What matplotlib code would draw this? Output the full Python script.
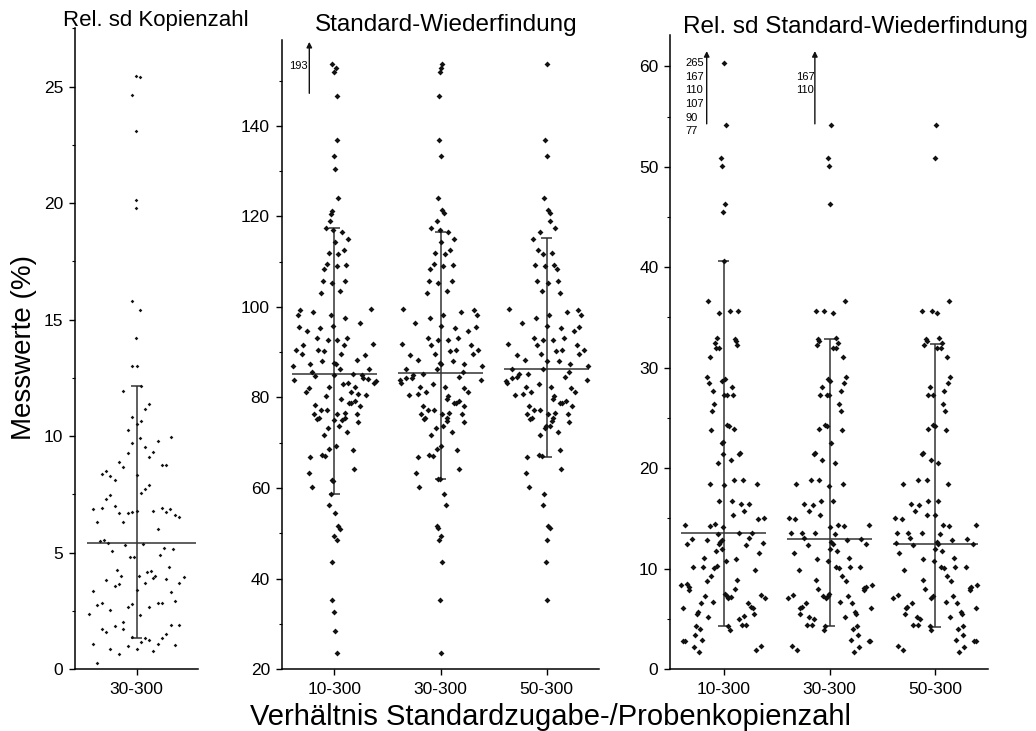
import numpy as np
import matplotlib
matplotlib.use("Agg")
import matplotlib.pyplot as plt

plt.rcParams["font.family"] = ["Liberation Sans", "DejaVu Sans"]

# Kategorien (Verhältnis Standardzugabe/Probenkopienzahl)
kategorien_kopien = ["30-300"]
kategorien = ["10-300", "30-300", "50-300"]

# Messpunkte als (Streuung in Kategorie-Einheiten, Messwert in %)
rsd_kopien_30 = [
    (-0.003, 25.44), (0.035, 25.40), (-0.047, 24.62), (-0.003, 23.09), (-0.003, 20.14), (-0.003, 19.77),
    (-0.047, 15.81), (0.035, 15.41), (-0.003, 14.22), (-0.044, 13.01), (0.0, 13.01), (-0.126, 11.94),
    (0.041, 12.15), (0.116, 11.38), (0.075, 11.16), (-0.044, 10.81), (0.038, 10.64), (0.0, 10.53),
    (-0.085, 10.27), (0.035, 9.91), (0.321, 9.96), (0.198, 9.79), (-0.044, 9.71), (0.075, 9.53),
    (0.157, 9.30), (-0.085, 9.27), (0.12, 9.12), (-0.167, 8.89), (-0.126, 8.66), (0.239, 8.74),
    (0.28, 8.76), (-0.289, 8.49), (-0.33, 8.35), (-0.248, 8.30), (-0.208, 8.10), (0.0, 8.33),
    (0.12, 7.90), (0.075, 7.72), (0.038, 7.56), (-0.248, 7.47), (-0.289, 7.30), (-0.208, 6.99),
    (-0.33, 6.93), (-0.412, 6.85), (0.239, 6.92), (0.318, 6.88), (0.157, 6.79), (0.277, 6.73),
    (-0.167, 6.70), (0.0, 6.79), (-0.044, 6.75), (-0.085, 6.68), (0.358, 6.60), (0.399, 6.52),
    (-0.371, 6.32), (-0.126, 6.29), (0.198, 6.02), (-0.349, 5.48), (-0.308, 5.53), (-0.267, 5.39),
    (0.057, 5.36), (-0.107, 5.34), (0.258, 5.18), (0.343, 5.16), (-0.23, 5.08), (0.22, 4.88),
    (-0.066, 4.82), (-0.028, 4.82), (-0.186, 4.25), (-0.148, 3.99), (0.138, 4.22), (0.101, 4.18),
    (0.176, 4.01), (0.3, 4.38), (0.019, 3.99), (0.157, 3.89), (0.28, 3.88), (0.443, 3.95),
    (-0.289, 3.81), (-0.167, 3.65), (-0.208, 3.57), (0.075, 3.71), (0.403, 3.71), (0.0, 3.38),
    (-0.412, 3.35), (0.321, 3.32), (-0.33, 2.82), (-0.371, 2.75), (-0.248, 2.55), (-0.044, 2.80),
    (-0.085, 2.68), (0.12, 2.65), (0.198, 2.82), (0.239, 2.82), (0.362, 2.90), (-0.453, 2.38),
    (0.035, 2.33), (-0.33, 1.70), (-0.289, 1.58), (-0.208, 1.84), (-0.126, 2.03), (-0.126, 1.71),
    (0.321, 1.87), (0.403, 1.90), (0.28, 1.50), (0.239, 1.33), (-0.044, 1.36), (0.079, 1.33),
    (0.116, 1.26), (-0.412, 1.06), (0.038, 1.14), (0.198, 1.06), (0.362, 1.01), (-0.085, 0.97),
    (-0.248, 0.88), (0.0, 0.84), (0.157, 0.76), (-0.167, 0.64), (-0.371, 0.26),
]

wf_10 = [
    (-0.025, 153.7), (0.013, 152.8), (-0.006, 152.0), (0.022, 146.7), (0.022, 137.0), (-0.006, 133.4),
    (0.006, 130.4), (0.038, 124.0), (-0.025, 121.3), (-0.035, 120.6), (-0.041, 119.0), (-0.082, 117.5),
    (-0.013, 117.0), (0.069, 116.5), (0.126, 115.1), (0.009, 114.4), (-0.05, 112.0), (0.088, 112.6),
    (0.038, 111.8), (-0.066, 109.4), (0.022, 109.1), (0.113, 109.2), (-0.097, 108.4), (-0.11, 105.8),
    (-0.025, 105.2), (0.101, 105.8), (0.053, 103.5), (-0.129, 103.0), (-0.318, 99.3), (-0.198, 99.0),
    (0.349, 99.6), (-0.343, 98.2), (-0.035, 98.2), (0.104, 97.6), (0.242, 96.5), (-0.333, 95.6),
    (-0.138, 95.3), (-0.016, 95.9), (-0.261, 94.6), (-0.167, 93.2), (0.028, 92.8), (0.116, 93.2),
    (-0.063, 92.7), (-0.292, 91.7), (0.094, 91.7), (0.362, 91.9), (-0.362, 90.6), (-0.151, 90.4),
    (-0.094, 90.3), (-0.302, 89.5), (0.063, 89.7), (0.289, 89.3), (0.217, 88.3), (-0.23, 87.4),
    (-0.119, 88.0), (-0.003, 87.6), (0.016, 87.3), (-0.387, 87.0), (-0.214, 85.7), (0.053, 86.3),
    (0.33, 86.4), (-0.377, 83.9), (-0.182, 84.7), (-0.003, 84.9), (0.179, 85.2), (0.258, 85.0),
    (0.267, 84.3), (0.314, 84.1), (0.374, 83.3), (0.39, 83.6), (-0.267, 81.3), (-0.239, 82.1),
    (-0.047, 82.3), (0.079, 82.9), (0.132, 83.2), (0.198, 82.3), (0.226, 80.8), (0.299, 80.5),
    (-0.079, 80.3), (0.063, 79.7), (0.154, 81.3), (0.142, 78.7), (0.154, 78.7), (0.198, 79.2),
    (0.239, 78.2), (-0.182, 78.4), (-0.126, 77.3), (-0.072, 77.3), (-0.195, 76.4), (-0.16, 75.3),
    (-0.148, 75.5), (0.028, 76.4), (0.101, 76.6), (0.211, 76.4), (0.075, 75.1), (0.101, 75.4),
    (0.0, 75.1), (0.044, 73.8), (-0.06, 73.3), (0.226, 74.5), (-0.097, 71.7), (0.119, 72.3),
    (0.016, 69.2), (-0.05, 68.7), (0.173, 68.5), (-0.119, 67.3), (-0.088, 67.0), (-0.23, 66.8),
    (0.186, 64.2), (-0.242, 63.4), (-0.211, 60.3), (-0.025, 61.8), (-0.016, 61.5), (-0.035, 58.6),
    (-0.053, 56.2), (0.006, 54.4), (0.038, 51.5), (0.053, 51.0), (-0.006, 49.3), (0.022, 48.6),
    (-0.025, 43.7), (-0.025, 35.3), (-0.006, 32.5), (0.006, 28.3), (0.022, 23.5),
]

wf_30 = [
    (0.016, 153.7), (0.006, 152.9), (-0.003, 152.0), (-0.013, 146.7), (-0.013, 137.0), (0.0, 133.4),
    (-0.028, 124.0), (0.016, 121.4), (0.031, 120.7), (-0.035, 119.0), (-0.085, 117.5), (-0.009, 117.0),
    (0.072, 116.5), (0.129, 115.1), (0.006, 114.4), (-0.053, 112.0), (0.085, 112.6), (0.038, 111.8),
    (-0.063, 109.4), (0.022, 109.1), (0.116, 109.2), (-0.097, 108.4), (-0.113, 105.8), (-0.019, 105.2),
    (0.104, 105.8), (0.057, 103.5), (-0.129, 103.0), (-0.349, 99.6), (0.195, 99.0), (0.318, 99.3),
    (-0.097, 97.6), (0.022, 98.2), (0.346, 98.2), (-0.236, 96.5), (0.009, 95.9), (0.132, 95.3),
    (0.33, 95.6), (0.256, 94.6), (-0.116, 93.2), (-0.028, 92.7), (0.164, 93.2), (0.066, 92.8),
    (-0.362, 91.9), (-0.085, 91.7), (0.286, 91.7), (0.091, 90.3), (0.148, 90.4), (0.355, 90.6),
    (-0.283, 89.3), (-0.053, 89.7), (0.302, 89.5), (-0.208, 88.3), (-0.003, 87.6), (0.003, 87.3),
    (0.116, 88.0), (0.223, 87.4), (0.393, 87.0), (-0.327, 86.4), (-0.035, 86.3), (0.214, 85.7),
    (-0.384, 83.8), (-0.368, 83.2), (-0.327, 84.3), (-0.27, 84.3), (-0.255, 85.0), (-0.167, 85.2),
    (0.173, 84.6), (0.381, 83.9), (-0.299, 80.6), (-0.192, 82.4), (-0.214, 80.8), (-0.141, 81.3),
    (-0.069, 82.9), (0.044, 82.3), (0.075, 80.3), (0.06, 79.7), (-0.167, 78.2), (-0.116, 77.3),
    (-0.06, 77.3), (0.129, 78.7), (0.142, 78.7), (0.173, 79.2), (0.223, 78.2), (0.22, 82.1),
    (0.261, 81.3), (-0.182, 76.4), (-0.154, 75.3), (-0.142, 75.5), (0.016, 76.4), (0.079, 76.6),
    (0.204, 76.4), (0.063, 75.4), (0.06, 74.9), (0.028, 73.8), (-0.047, 73.3), (0.217, 74.5),
    (-0.094, 71.7), (0.11, 72.3), (0.0, 69.2), (-0.035, 68.7), (0.157, 68.5), (-0.107, 67.3),
    (-0.075, 67.0), (-0.214, 66.8), (0.17, 64.2), (-0.23, 63.4), (-0.198, 60.3), (-0.019, 62.0),
    (-0.003, 62.0), (0.031, 58.6), (0.047, 56.2), (-0.035, 51.5), (-0.022, 51.1), (0.0, 49.3),
    (-0.013, 48.6), (0.016, 43.7), (-0.006, 35.3), (0.009, 23.5),
]

wf_50 = [
    (0.0, 153.7), (-0.019, 137.0), (0.0, 133.4), (-0.028, 124.0), (0.016, 121.4), (0.028, 120.7),
    (0.031, 119.0), (0.079, 117.5), (-0.06, 116.5), (-0.126, 115.1), (-0.079, 112.5), (-0.031, 111.8),
    (0.047, 112.0), (-0.11, 109.2), (-0.019, 109.1), (0.069, 109.2), (0.101, 108.4), (-0.094, 105.8),
    (0.016, 105.2), (0.11, 105.8), (-0.047, 103.5), (0.126, 103.0), (-0.352, 99.6), (-0.101, 97.6),
    (0.019, 98.2), (0.195, 99.0), (0.292, 99.3), (0.324, 98.2), (-0.236, 96.5), (0.006, 95.9),
    (0.132, 95.3), (0.308, 95.6), (0.252, 94.6), (-0.116, 93.2), (-0.031, 92.7), (0.057, 92.8),
    (0.164, 93.2), (-0.362, 91.9), (-0.088, 91.7), (0.283, 91.7), (0.088, 90.3), (0.145, 90.4),
    (0.355, 90.6), (-0.283, 89.3), (-0.057, 89.7), (0.299, 89.5), (-0.204, 88.3), (0.0, 88.1),
    (0.116, 88.0), (0.223, 87.4), (0.39, 87.0), (-0.33, 86.4), (-0.038, 86.3), (0.214, 85.7),
    (-0.384, 83.6), (-0.371, 83.2), (-0.33, 84.3), (-0.283, 84.5), (-0.264, 85.1), (-0.173, 85.1),
    (0.173, 84.6), (0.377, 83.9), (-0.299, 80.5), (-0.22, 80.8), (-0.195, 82.4), (-0.145, 81.3),
    (-0.069, 82.9), (0.038, 82.3), (0.072, 80.3), (0.057, 79.7), (-0.167, 78.2), (-0.116, 77.3),
    (-0.063, 77.3), (0.126, 78.7), (0.145, 78.7), (0.182, 79.2), (0.236, 78.2), (0.226, 82.1),
    (0.267, 81.3), (-0.182, 76.4), (-0.157, 75.3), (-0.142, 75.5), (0.016, 76.4), (0.079, 76.6),
    (0.204, 76.4), (0.057, 75.4), (0.047, 74.9), (0.031, 73.8), (-0.016, 73.3), (-0.006, 73.7),
    (0.214, 74.5), (-0.063, 71.7), (0.11, 72.3), (0.126, 68.5), (-0.072, 67.3), (-0.041, 67.0),
    (-0.182, 66.8), (0.135, 64.2), (-0.198, 63.4), (-0.17, 60.3), (-0.028, 58.6), (-0.038, 56.2),
    (0.016, 51.5), (0.031, 51.1), (0.003, 48.6), (-0.006, 43.7), (0.0, 35.3),
]

rsd_wf_10 = [
    (0.003, 60.3), (0.019, 54.2), (-0.028, 50.9), (-0.016, 50.1), (0.013, 46.3), (-0.006, 45.5),
    (0.003, 40.6), (-0.151, 36.6), (-0.044, 35.4), (0.057, 35.6), (0.132, 35.6), (-0.063, 33.0),
    (-0.082, 32.5), (-0.076, 32.0), (-0.041, 32.0), (0.107, 32.9), (0.117, 32.7), (0.123, 32.3),
    (-0.129, 31.1), (-0.161, 29.1), (-0.139, 28.5), (-0.098, 27.7), (-0.091, 26.4), (-0.11, 25.7),
    (-0.016, 28.7), (0.013, 28.9), (0.006, 27.3), (0.028, 27.3), (0.079, 28.1), (0.085, 27.3),
    (-0.12, 23.8), (0.028, 24.3), (0.047, 24.2), (0.095, 23.9), (-0.019, 22.5), (-0.006, 22.6),
    (-0.003, 21.4), (0.142, 21.4), (0.155, 21.5), (0.066, 20.8), (-0.05, 20.5), (-0.126, 18.4),
    (0.0, 18.3), (0.101, 18.8), (0.18, 18.8), (0.312, 18.4), (-0.041, 16.7), (0.082, 16.7),
    (0.16, 16.4), (0.237, 16.4), (0.196, 15.7), (0.088, 15.3), (-0.369, 14.3), (-0.132, 14.2),
    (-0.085, 14.4), (-0.009, 14.1), (0.322, 14.9), (0.382, 15.0), (-0.05, 13.4), (0.142, 13.5),
    (0.265, 13.5), (0.369, 12.5), (0.243, 13.0), (-0.3, 12.9), (-0.35, 12.4), (-0.161, 12.8),
    (-0.032, 12.6), (-0.016, 12.8), (-0.041, 12.4), (0.208, 12.3), (-0.013, 11.9), (-0.076, 11.7),
    (0.331, 11.6), (-0.186, 11.1), (0.022, 10.8), (0.117, 11.0), (-0.192, 10.2), (-0.29, 10.2),
    (-0.095, 10.1), (-0.066, 10.3), (0.293, 9.9), (-0.117, 9.3), (-0.155, 8.8), (0.129, 8.9),
    (-0.404, 8.4), (-0.344, 8.5), (-0.325, 8.2), (-0.331, 7.9), (-0.174, 7.3), (0.013, 7.5),
    (0.028, 7.3), (0.044, 7.1), (0.066, 7.2), (0.11, 8.0), (0.35, 7.4), (0.391, 7.1),
    (-0.104, 6.7), (-0.215, 6.6), (0.227, 6.6), (0.262, 6.2), (0.274, 6.1), (-0.388, 6.1),
    (-0.246, 5.7), (-0.255, 5.5), (0.284, 5.5), (-0.145, 5.2), (0.196, 5.3), (0.148, 5.0),
    (0.041, 4.3), (0.06, 3.9), (0.17, 4.4), (0.211, 4.4), (-0.265, 4.3), (-0.224, 4.0),
    (-0.271, 3.4), (-0.205, 2.9), (-0.382, 2.8), (-0.366, 2.8), (-0.281, 2.2), (-0.237, 1.7),
    (0.303, 1.9), (0.356, 2.3),
]

rsd_wf_30 = [
    (0.016, 54.2), (-0.013, 50.9), (-0.006, 50.1), (0.006, 46.3), (-0.129, 35.6), (-0.05, 35.6),
    (0.035, 35.4), (0.148, 36.6), (-0.114, 32.9), (-0.104, 32.7), (-0.12, 32.3), (0.057, 33.0),
    (0.076, 32.5), (0.028, 32.0), (0.063, 32.0), (0.126, 31.1), (0.155, 29.1), (0.132, 28.5),
    (0.104, 27.7), (0.088, 26.4), (0.107, 25.7), (-0.016, 28.9), (0.006, 28.7), (-0.073, 28.1),
    (-0.088, 27.3), (-0.025, 27.3), (-0.006, 27.3), (0.117, 23.8), (-0.041, 24.3), (-0.025, 24.2),
    (-0.098, 23.9), (0.013, 22.5), (-0.151, 21.4), (-0.142, 21.5), (-0.069, 20.8), (0.047, 20.5),
    (0.123, 18.4), (-0.003, 18.2), (-0.177, 18.8), (-0.098, 18.8), (-0.315, 18.4), (0.028, 16.7),
    (-0.079, 16.7), (-0.158, 16.3), (-0.237, 16.4), (-0.196, 15.7), (-0.088, 15.3), (0.076, 14.3),
    (0.132, 14.2), (0.0, 14.1), (0.372, 14.3), (-0.325, 14.9), (-0.381, 15.0), (0.054, 13.4),
    (-0.136, 13.5), (-0.262, 13.5), (-0.366, 13.5), (-0.24, 13.0), (0.3, 12.9), (0.013, 12.6),
    (0.028, 12.4), (0.164, 12.8), (0.347, 12.4), (-0.205, 12.3), (0.006, 11.9), (0.069, 11.7),
    (-0.334, 11.6), (0.18, 11.1), (-0.12, 11.0), (-0.016, 10.8), (0.29, 10.2), (0.196, 10.2),
    (0.063, 10.2), (0.088, 10.1), (-0.293, 9.9), (0.12, 9.3), (0.158, 8.8), (-0.126, 8.9),
    (0.401, 8.4), (0.341, 8.2), (0.322, 8.1), (0.328, 7.9), (0.174, 7.3), (-0.019, 7.3),
    (-0.038, 7.1), (-0.063, 7.3), (-0.006, 7.5), (-0.107, 8.0), (-0.347, 7.4), (-0.394, 7.1),
    (0.101, 6.7), (0.211, 6.6), (-0.224, 6.6), (-0.265, 6.2), (-0.278, 6.1), (0.388, 6.1),
    (0.243, 5.7), (0.252, 5.5), (-0.284, 5.5), (0.142, 5.2), (-0.199, 5.2), (-0.148, 5.0),
    (-0.041, 4.3), (-0.057, 3.9), (-0.215, 4.4), (-0.17, 4.4), (0.259, 4.3), (0.218, 4.0),
    (0.268, 3.4), (0.202, 2.9), (0.369, 2.8), (0.379, 2.8), (0.278, 2.2), (0.233, 1.7),
    (-0.309, 1.9), (-0.356, 2.3),
]

rsd_wf_50 = [
    (0.006, 54.2), (0.0, 50.9), (-0.123, 35.6), (-0.035, 35.6), (0.019, 35.4), (0.129, 36.6),
    (-0.091, 32.9), (-0.082, 32.7), (-0.104, 32.3), (0.038, 33.0), (0.06, 32.5), (0.013, 32.0),
    (0.05, 32.0), (0.107, 31.1), (0.139, 29.1), (0.123, 28.5), (0.082, 27.7), (0.069, 26.4),
    (0.091, 25.7), (-0.05, 28.1), (-0.066, 27.3), (-0.019, 27.3), (0.101, 23.8), (-0.019, 24.3),
    (-0.003, 24.2), (-0.073, 23.9), (-0.129, 21.4), (-0.12, 21.5), (-0.044, 20.8), (0.028, 20.5),
    (0.117, 18.4), (-0.082, 18.8), (-0.161, 18.8), (-0.309, 18.4), (0.022, 16.7), (-0.073, 16.7),
    (-0.151, 16.3), (-0.23, 16.4), (-0.189, 15.7), (-0.082, 15.3), (0.0, 15.3), (0.076, 14.3),
    (0.126, 14.2), (0.044, 13.4), (0.382, 14.3), (-0.382, 15.0), (-0.319, 14.9), (-0.129, 13.5),
    (-0.255, 13.5), (-0.366, 13.5), (-0.24, 13.0), (0.297, 12.9), (0.155, 12.8), (0.013, 12.6),
    (0.022, 12.4), (-0.372, 12.5), (-0.208, 12.3), (0.353, 12.4), (-0.003, 11.9), (0.066, 11.7),
    (-0.341, 11.6), (0.177, 11.1), (-0.117, 11.0), (-0.009, 10.8), (0.287, 10.2), (0.186, 10.2),
    (0.05, 10.2), (0.079, 10.1), (-0.297, 9.9), (0.107, 9.3), (0.145, 8.8), (-0.12, 8.9),
    (0.397, 8.4), (0.334, 8.2), (0.322, 8.1), (0.328, 7.9), (0.17, 7.3), (-0.025, 7.3),
    (-0.044, 7.1), (-0.098, 8.0), (-0.35, 7.4), (-0.397, 7.1), (0.098, 6.7), (0.208, 6.6),
    (-0.224, 6.6), (-0.265, 6.2), (-0.278, 6.1), (0.385, 6.1), (0.24, 5.7), (0.249, 5.5),
    (-0.287, 5.5), (0.139, 5.2), (-0.177, 5.2), (-0.145, 5.0), (-0.05, 4.3), (-0.041, 3.9),
    (-0.208, 4.4), (-0.161, 4.4), (0.259, 4.3), (0.218, 4.0), (0.265, 3.4), (0.196, 2.9),
    (0.366, 2.8), (0.382, 2.8), (0.271, 2.2), (0.224, 1.7), (-0.303, 1.9), (-0.35, 2.3),
]

# Mittelwert, untere und obere Grenze je Kategorie
stat_kopien = [(5.41, 1.33, 12.15)]
stat_wf = [(85.1, 58.6, 117.5), (85.4, 62.0, 116.6), (86.2, 66.8, 115.2)]
stat_rsd_wf = [(13.5, 4.3, 40.6), (12.96, 4.29, 32.9), (12.4, 4.2, 32.4)]

# Werte außerhalb des Achsenbereichs (Beschriftung neben dem Pfeil)
ausreisser_wf = [["193"], [], []]
ausreisser_rsd_wf = [["265", "167", "110", "107", "90", "77"], ["", "167", "110"], []]

SCHWARZ = "#111111"
LINIE = "#333333"


def spalte(ax, x0, punkte, stat, mittel_links, mittel_rechts, groesse):
    dx, y = np.array(punkte).T
    ax.scatter(x0 + dx, y, s=groesse, marker="D", color=SCHWARZ, linewidths=0, zorder=3)
    mittel, unten, oben = stat
    ax.vlines(x0, unten, oben, color=LINIE, lw=1.1, zorder=2)
    ax.hlines([unten, oben], x0 - 0.05, x0 + 0.05, color=LINIE, lw=1.1, zorder=2)
    ax.hlines(mittel, x0 + mittel_links, x0 + mittel_rechts, color=LINIE, lw=1.1, zorder=2)


def achse_stil(ax, kats, major, minor):
    for s in ("top", "right"):
        ax.spines[s].set_visible(False)
    for s in ("left", "bottom"):
        ax.spines[s].set_linewidth(1.1)
    ax.set_xticks(range(len(kats)))
    ax.set_xticklabels(kats)
    ax.yaxis.set_major_locator(plt.MultipleLocator(major))
    ax.yaxis.set_minor_locator(plt.MultipleLocator(minor))
    ax.tick_params(axis="both", which="major", direction="out", length=4.5, width=1, labelsize=12.5)
    ax.tick_params(axis="x", pad=5)
    ax.tick_params(axis="y", pad=4)
    ax.tick_params(axis="y", which="minor", direction="out", length=2.5, width=0.8)


def pfeil(ax, x, y_start, y_ende, labels, x_text, y_erste, abstand):
    ax.annotate("", xy=(x, y_ende), xytext=(x, y_start),
                arrowprops=dict(arrowstyle="-|>", color=SCHWARZ, lw=1, mutation_scale=8),
                annotation_clip=False)
    for k, lab in enumerate(labels):
        ax.text(x_text, y_erste - k * abstand, lab, ha="left", va="center", fontsize=8)


fig = plt.figure(figsize=(10.36, 7.31), dpi=100)

ax1 = fig.add_axes([0.0724, 0.0848, 0.119, 0.8765])
ax2 = fig.add_axes([0.2719, 0.0848, 0.3066, 0.8605])
ax3 = fig.add_axes([0.6470, 0.0848, 0.3070, 0.8670])

# Rel. sd Kopienzahl
spalte(ax1, 0, rsd_kopien_30, stat_kopien[0], -0.472, 0.557, 3.5)
ax1.set_xlim(-0.582, 0.581)
ax1.set_ylim(0, 27.5)
achse_stil(ax1, kategorien_kopien, 5, 2.5)

# Standard-Wiederfindung
for i, (punkte, st) in enumerate(zip([wf_10, wf_30, wf_50], stat_wf)):
    spalte(ax2, i, punkte, st, -0.40, 0.40, 9)
ax2.set_xlim(-0.495, 2.495)
ax2.set_ylim(20, 159)
achse_stil(ax2, kategorien, 20, 10)
for i, labels in enumerate(ausreisser_wf):
    if labels:
        pfeil(ax2, i - 0.235, 146.6, 159.2, labels, i - 0.427, 153.3, 3.0)

# Rel. sd Standard-Wiederfindung
for i, (punkte, st) in enumerate(zip([rsd_wf_10, rsd_wf_30, rsd_wf_50], stat_rsd_wf)):
    spalte(ax3, i, punkte, st, -0.40, 0.40, 9)
ax3.set_xlim(-0.505, 2.50)
ax3.set_ylim(0, 63.1)
achse_stil(ax3, kategorien, 10, 5)
for i, labels in enumerate(ausreisser_rsd_wf):
    if labels:
        x_pfeil = i - 0.161 if i == 0 else i - 0.139
        x_text = i - 0.366 if i == 0 else i - 0.318
        pfeil(ax3, x_pfeil, 54.0, 61.8, labels, x_text, 60.3, 1.35)

fig.text(0.0608, 0.972, "Rel. sd Kopienzahl", fontsize=16, ha="left", va="center")
fig.text(0.4305, 0.966, "Standard-Wiederfindung", fontsize=17.5, ha="center", va="center")
fig.text(0.826, 0.963, "Rel. sd Standard-Wiederfindung", fontsize=17.5, ha="center", va="center")
fig.text(0.0236, 0.5246, "Messwerte (%)", fontsize=20, rotation=90, ha="center", va="center")
fig.text(0.531, 0.008, "Verhältnis Standardzugabe-/Probenkopienzahl", fontsize=21,
         ha="center", va="baseline")

fig.savefig("out.png", dpi=100)
